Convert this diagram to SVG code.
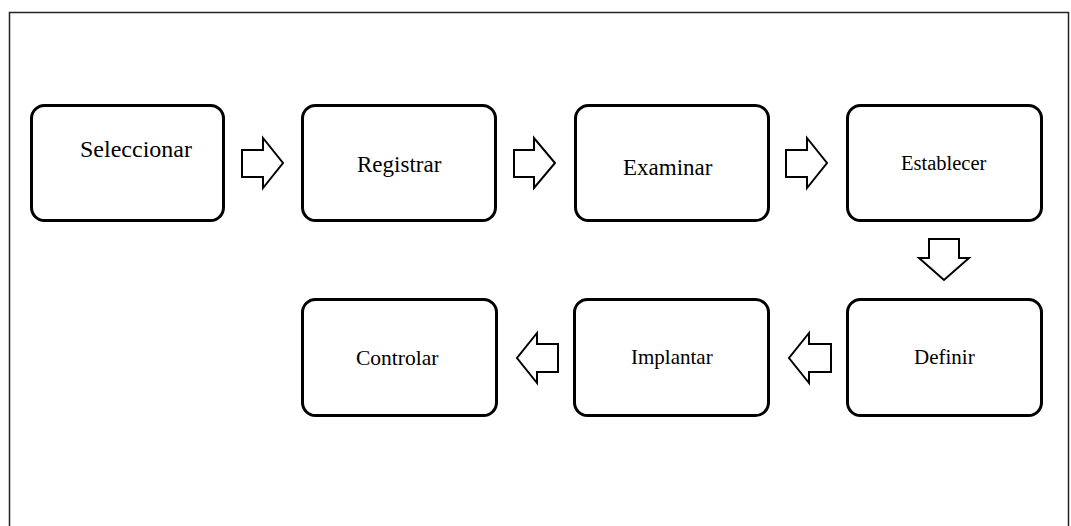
<svg xmlns="http://www.w3.org/2000/svg" width="1071" height="526" viewBox="0 0 1071 526">
<style>
.box{fill:#fff;stroke:#000;stroke-width:3}
.arr{fill:#fff;stroke:#000;stroke-width:2;stroke-linejoin:miter}
.t{font-family:"Liberation Serif","Times New Roman",serif;fill:#000}
</style>
<rect x="0" y="0" width="1071" height="526" fill="#fff"/>
<rect x="9.5" y="12.5" width="1059" height="520" fill="none" stroke="#222" stroke-width="1.5"/>
<g id="n1"><rect class="box" x="31.5" y="105.5" width="192" height="115" rx="13"/><text class="t" x="80" y="157" font-size="24">Seleccionar</text></g>
<g id="n2"><rect class="box" x="302.5" y="105.5" width="193" height="115" rx="13"/><text class="t" x="357" y="172" font-size="23">Registrar</text></g>
<g id="n3"><rect class="box" x="575.5" y="105.5" width="193" height="115" rx="13"/><text class="t" x="623" y="175" font-size="23">Examinar</text></g>
<g id="n4"><rect class="box" x="847.5" y="105.5" width="194" height="115" rx="13"/><text class="t" x="901" y="170" font-size="20.5">Establecer</text></g>
<g id="n5"><rect class="box" x="847.5" y="299.5" width="194" height="116" rx="13"/><text class="t" x="914" y="364" font-size="21">Definir</text></g>
<g id="n6"><rect class="box" x="574.5" y="299.5" width="194" height="116" rx="13"/><text class="t" x="631" y="364" font-size="21">Implantar</text></g>
<g id="n7"><rect class="box" x="302.5" y="299.5" width="194" height="116" rx="13"/><text class="t" x="356" y="365" font-size="21.5">Controlar</text></g>
<g id="connectors">
<polygon class="arr" points="242,150 263,150 263,138 283,163 263,188 263,177 242,177"/>
<polygon class="arr" points="514,150 534,150 534,138 555,163 534,188 534,177 514,177"/>
<polygon class="arr" points="786,150 807,150 807,138 827,163 807,188 807,177 786,177"/>
<polygon class="arr" points="929,239 959,239 959,258 969,258 944,280 919,258 929,258"/>
<polygon class="arr" points="831,344 809,344 809,333 789,358 809,383 809,372 831,372"/>
<polygon class="arr" points="558,344 537,344 537,333 517,358 537,383 537,372 558,372"/>
</g>
</svg>
